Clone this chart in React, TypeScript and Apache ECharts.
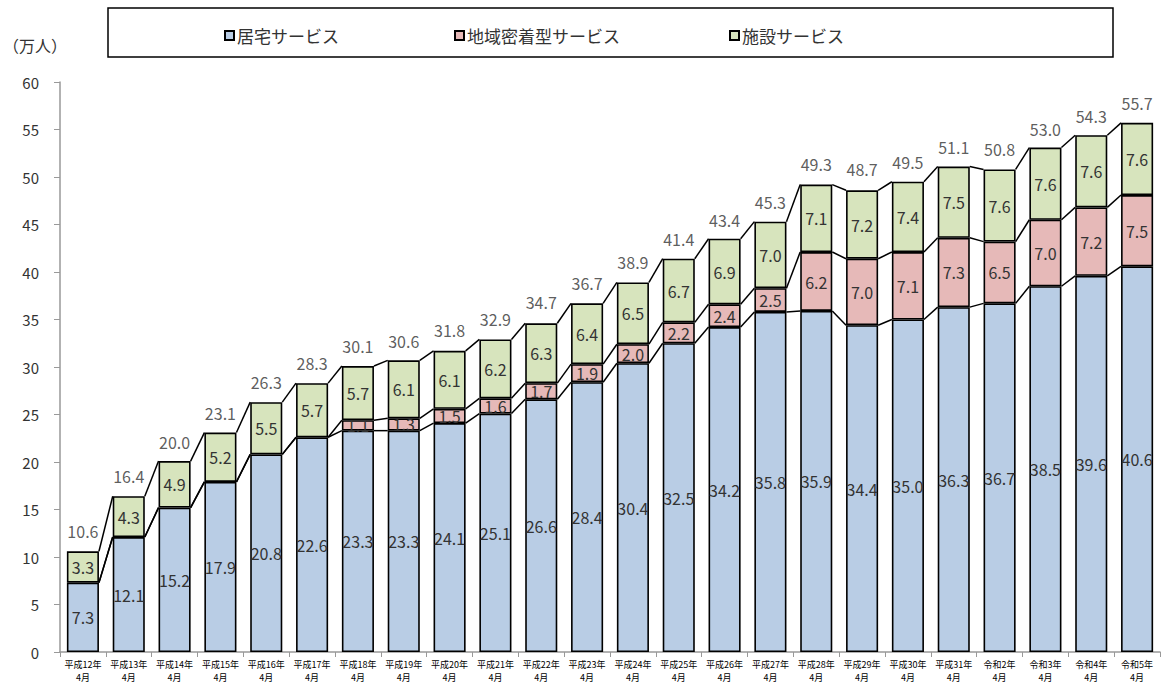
import React, { useEffect, useRef } from "react";
import * as echarts from "echarts";

const categories = [
  "平成12年\n4月", "平成13年\n4月", "平成14年\n4月", "平成15年\n4月", "平成16年\n4月", "平成17年\n4月",
  "平成18年\n4月", "平成19年\n4月", "平成20年\n4月", "平成21年\n4月", "平成22年\n4月", "平成23年\n4月",
  "平成24年\n4月", "平成25年\n4月", "平成26年\n4月", "平成27年\n4月", "平成28年\n4月", "平成29年\n4月",
  "平成30年\n4月", "平成31年\n4月", "令和2年\n4月", "令和3年\n4月", "令和4年\n4月", "令和5年\n4月",
];
const kyotaku = [7.3, 12.1, 15.2, 17.9, 20.8, 22.6, 23.3, 23.3, 24.1, 25.1, 26.6, 28.4, 30.4, 32.5, 34.2, 35.8, 35.9, 34.4, 35.0, 36.3, 36.7, 38.5, 39.6, 40.6];
const chiiki: (number | null)[] = [null, null, null, null, null, null, 1.1, 1.3, 1.5, 1.6, 1.7, 1.9, 2.0, 2.2, 2.4, 2.5, 6.2, 7.0, 7.1, 7.3, 6.5, 7.0, 7.2, 7.5];
const shisetsu = [3.3, 4.3, 4.9, 5.2, 5.5, 5.7, 5.7, 6.1, 6.1, 6.2, 6.3, 6.4, 6.5, 6.7, 6.9, 7.0, 7.1, 7.2, 7.4, 7.5, 7.6, 7.6, 7.6, 7.6];
const totals = [10.6, 16.4, 20.0, 23.1, 26.3, 28.3, 30.1, 30.6, 31.8, 32.9, 34.7, 36.7, 38.9, 41.4, 43.4, 45.3, 49.3, 48.7, 49.5, 51.1, 50.8, 53.0, 54.3, 55.7];
const seriesNames = ["居宅サービス", "地域密着型サービス", "施設サービス"];
const yTicks = { min: 0, max: 60, interval: 5 };

const FONT = "'Noto Sans CJK JP', 'Noto Sans', sans-serif";
const BAR_RATIO = 0.7;
const legendLefts = [219, 449, 724];

function levels(i: number): number[] {
  const a = kyotaku[i];
  const b = a + (chiiki[i] ?? 0);
  const c = b + shisetsu[i];
  return [a, b, c];
}

export default function App() {
  const ref = useRef<HTMLDivElement>(null);
  useEffect(() => {
    if (!ref.current) return;
    const chart = echarts.init(ref.current, undefined, { renderer: "svg" });
    const segLabel = {
      show: true,
      position: "inside",
      fontSize: 16,
      color: "#333",
      fontFamily: FONT,
      formatter: (p: any) => (p.value == null || p.value === 0 ? "" : Number(p.value).toFixed(1)),
    };
    const barStyle = (color: string) => ({ color, borderColor: "#000", borderWidth: 1.6 });
    chart.setOption({
      animation: false,
      grid: { left: 60, right: 3, top: 82, bottom: 31, containLabel: false },
      legend: seriesNames.map((name, k) => ({
        data: [name],
        left: legendLefts[k],
        top: 22,
        icon: "rect",
        itemWidth: 9,
        itemHeight: 9,
        itemGap: 0,
        textStyle: { fontSize: 17, color: "#333", fontFamily: FONT, padding: [0, 0, 0, -2] },
      })),
      graphic: [
        {
          type: "rect",
          shape: { x: 108, y: 8, width: 1005, height: 49 },
          style: { fill: "none", stroke: "#000", lineWidth: 1.5 },
        },
        {
          type: "text",
          left: 3,
          top: 37,
          style: { text: "（万人）", fill: "#333", font: `16px ${FONT}` },
        },
      ],
      xAxis: {
        type: "category",
        data: categories,
        axisLine: { lineStyle: { color: "#999", width: 1.5 } },
        axisTick: { show: true, length: 5, lineStyle: { color: "#999" } },
        axisLabel: { fontSize: 9, lineHeight: 13, color: "#000", fontFamily: FONT, margin: 6, interval: 0 },
      },
      yAxis: {
        type: "value",
        min: yTicks.min,
        max: yTicks.max,
        interval: yTicks.interval,
        axisLine: { show: true, lineStyle: { color: "#999", width: 1.5 } },
        axisTick: { show: true, length: 6, lineStyle: { color: "#999" } },
        splitLine: { show: false },
        axisLabel: { fontSize: 15, color: "#333", fontFamily: FONT, margin: 21 },
      },
      series: [
        {
          name: seriesNames[0], type: "bar", stack: "a", data: kyotaku, barWidth: "70%",
          itemStyle: barStyle("#B9CDE5"), label: segLabel,
        },
        {
          name: seriesNames[1], type: "bar", stack: "a", data: chiiki.map((v) => (v == null ? "-" : v)), barWidth: "70%",
          itemStyle: barStyle("#E6B9B8"), label: segLabel,
        },
        {
          name: seriesNames[2], type: "bar", stack: "a", data: shisetsu, barWidth: "70%",
          itemStyle: barStyle("#D7E4BD"), label: segLabel,
        },
        {
          name: "connectors",
          type: "custom",
          data: categories.map((_, i) => i),
          z: 5,
          renderItem: (params: any, api: any) => {
            const i = api.value(0);
            if (i >= categories.length - 1) return { type: "group", children: [] };
            const half = (api.size([1, 0])[0] * BAR_RATIO) / 2;
            const l0 = levels(i);
            const l1 = levels(i + 1);
            const children = l0.map((v, k) => {
              const p0 = api.coord([i, v]);
              const p1 = api.coord([i + 1, l1[k]]);
              return {
                type: "line",
                shape: { x1: p0[0] + half, y1: p0[1], x2: p1[0] - half, y2: p1[1] },
                style: { stroke: "#000", lineWidth: 1.5 },
              };
            });
            return { type: "group", children };
          },
        },
        {
          name: "total",
          type: "scatter",
          data: totals,
          symbolSize: 0,
          z: 6,
          label: {
            show: true,
            position: "top",
            distance: 12,
            fontSize: 16,
            color: "#333",
            fontFamily: FONT,
            formatter: (p: any) => Number(p.value).toFixed(1),
          },
        },
      ],
    });
    return () => chart.dispose();
  }, []);
  return <div ref={ref} style={{ width: 1163, height: 684, position: "absolute", left: 0, top: 0 }} />;
}
